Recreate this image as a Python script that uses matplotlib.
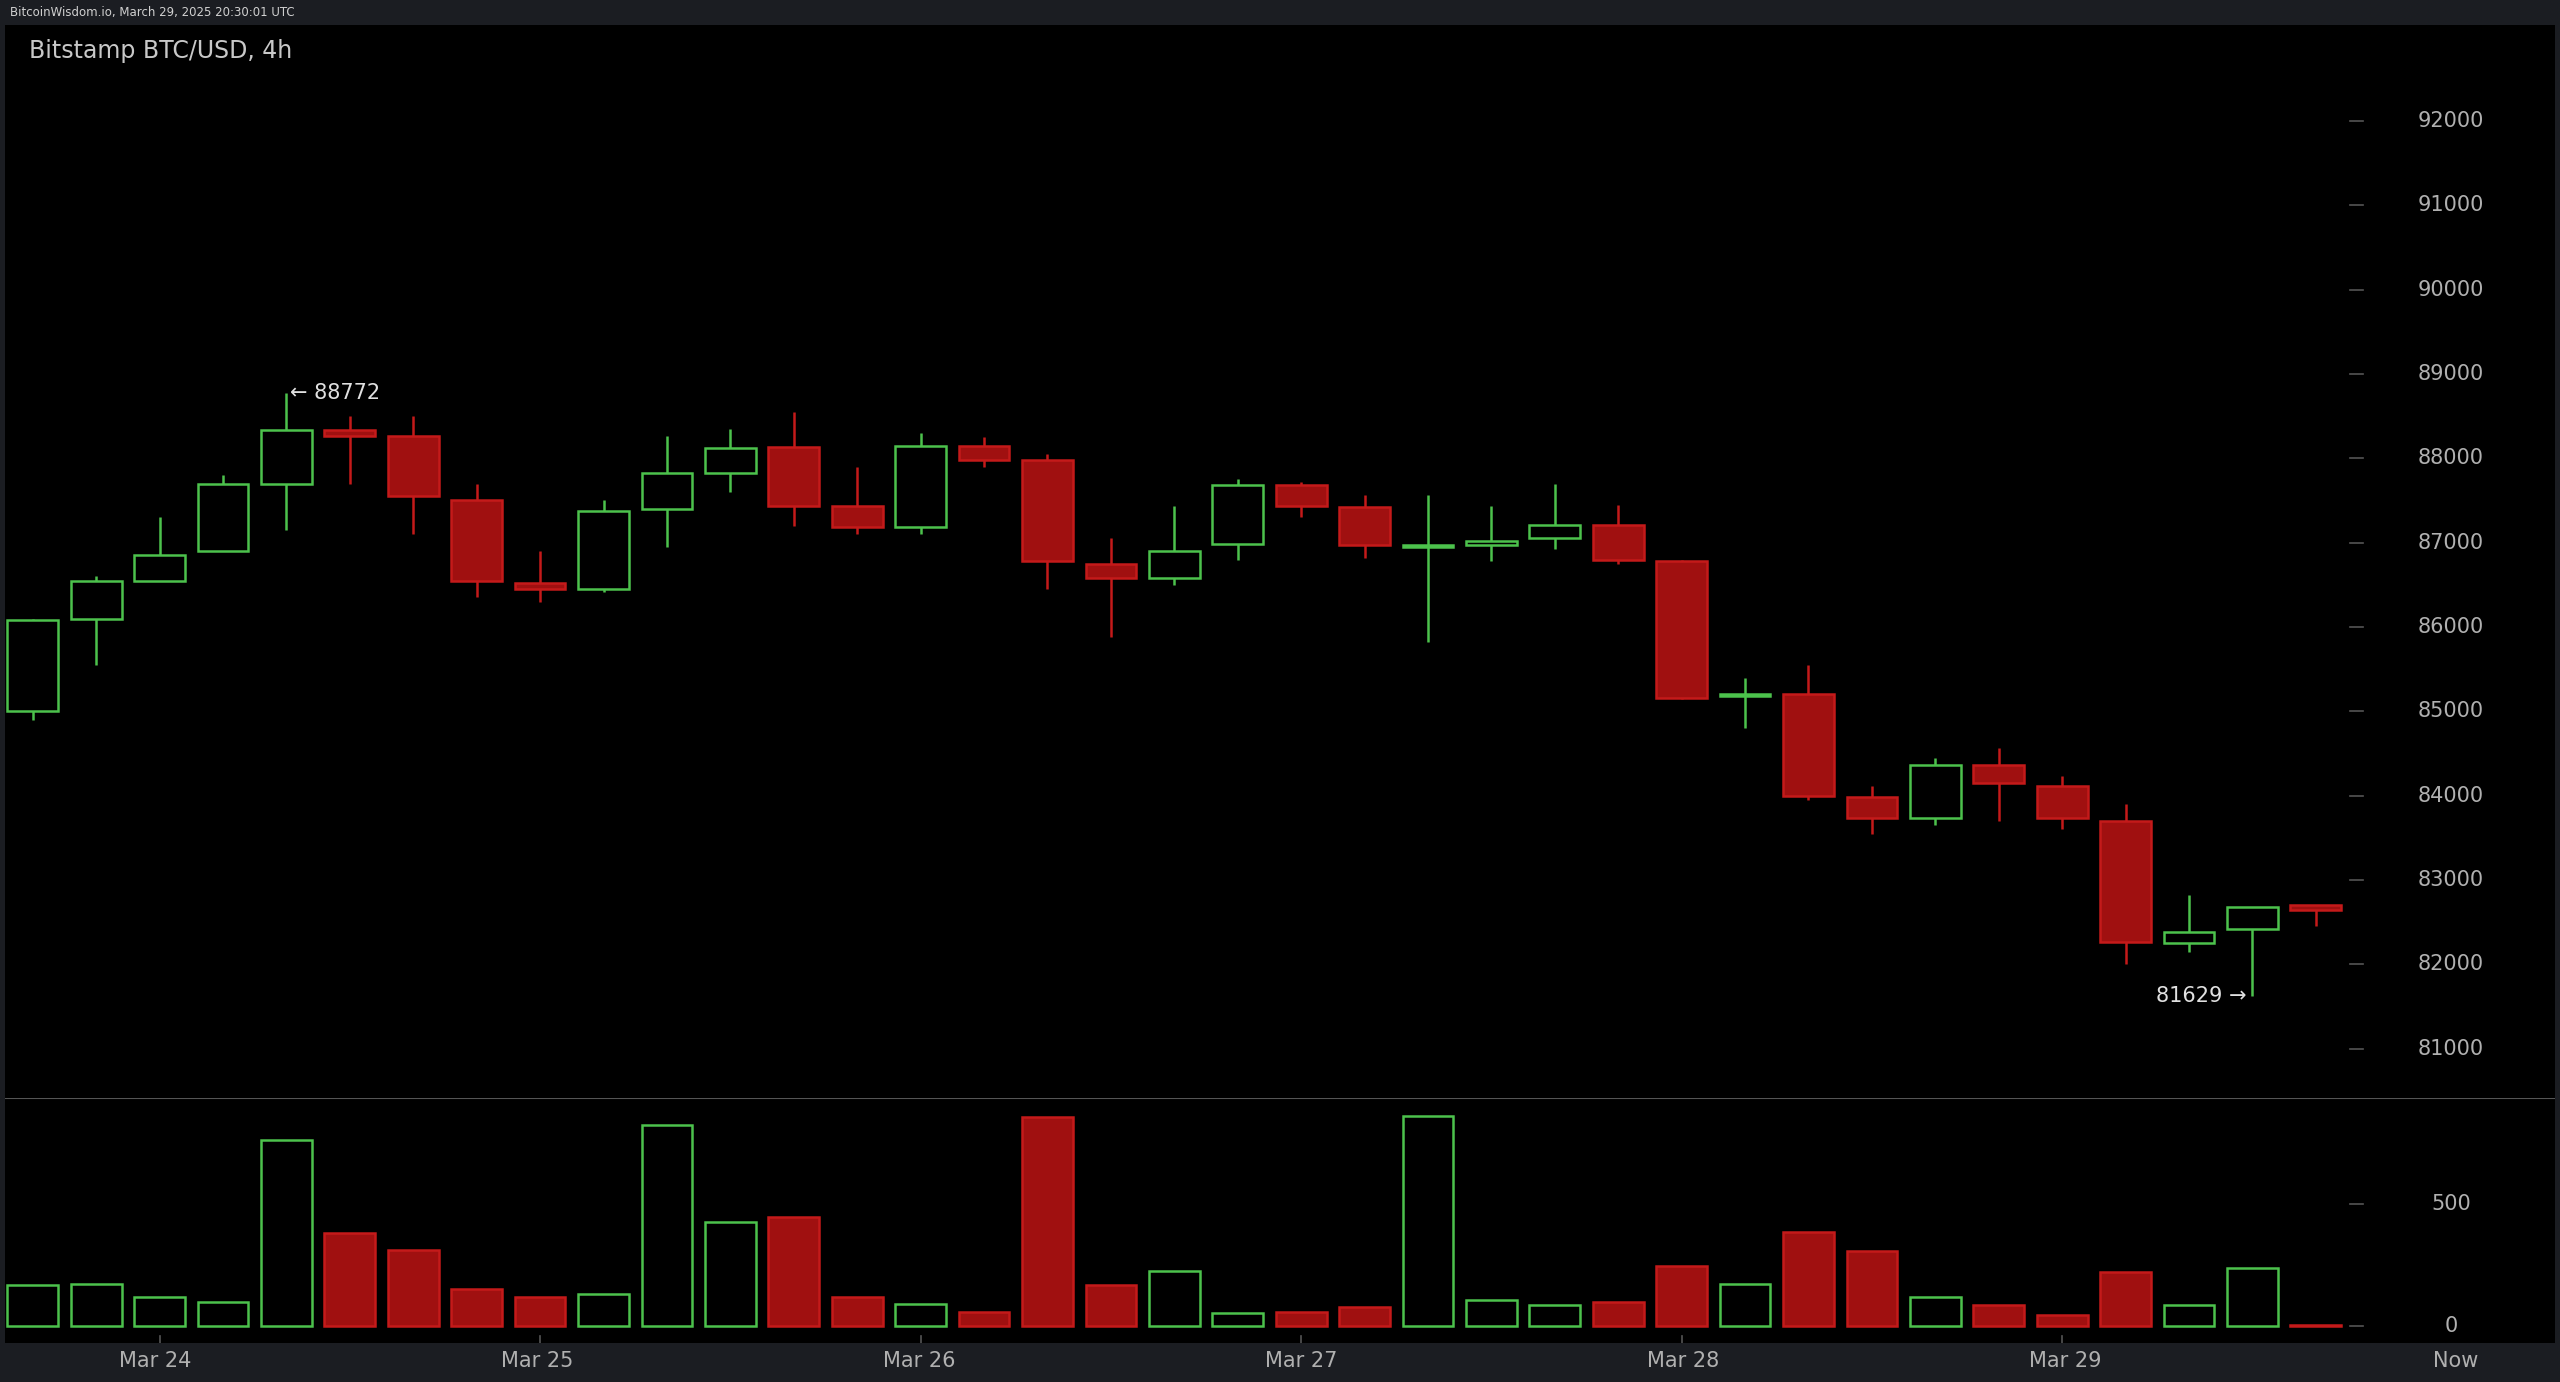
import numpy as np
import matplotlib
matplotlib.use('Agg')
import matplotlib.pyplot as plt

# 4h candles, Mar 23 16:00 .. Mar 29 20:00
opens = [85000, 86100, 86550, 86900, 87700, 88330, 88270, 87500, 86520, 86450, 87400, 87830, 88130,
         87430, 87180, 88150, 87980, 86750, 86580, 86990, 87680, 87420, 86950, 86970, 87060, 87210,
         86780, 85180, 85200, 83990, 83740, 84360, 84120, 83700, 82250, 82420, 82700]
closes = [86080, 86550, 86850, 87700, 88330, 88270, 87550, 86550, 86450, 87370, 87830, 88120, 87430,
          87180, 88150, 87980, 86780, 86580, 86900, 87680, 87430, 86970, 86960, 87020, 87210, 86800,
          85160, 85200, 84000, 83740, 84360, 84150, 83730, 82260, 82380, 82680, 82640]
highs = [86100, 86600, 87300, 87800, 88772, 88500, 88500, 87700, 86900, 87500, 88270, 88350, 88550,
         87900, 88300, 88250, 88050, 87050, 87430, 87750, 87720, 87570, 87560, 87430, 87700, 87450,
         86800, 85400, 85550, 84120, 84450, 84560, 84230, 83900, 82820, 82680, 82700]
lows = [84900, 85550, 86550, 86900, 87150, 87700, 87100, 86350, 86300, 86420, 86950, 87600, 87200,
        87100, 87100, 87900, 86450, 85880, 86500, 86800, 87300, 86820, 85820, 86780, 86930, 86750,
        85150, 84800, 83950, 83550, 83650, 83700, 83600, 82000, 82150, 81629, 82450]
volumes = [167, 173, 120, 100, 760, 380, 313, 153, 120, 133, 820, 427, 447, 120, 93, 60, 853, 167,
           227, 53, 60, 80, 860, 107, 87, 100, 247, 173, 387, 307, 120, 87, 47, 220, 87, 240, 7]
price_ticks = [81000, 82000, 83000, 84000, 85000, 86000, 87000, 88000, 89000, 90000, 91000, 92000]
date_pos = [2, 8, 14, 20, 26, 32]
date_labels = ['Mar 24', 'Mar 25', 'Mar 26', 'Mar 27', 'Mar 28', 'Mar 29']

W, H = 1568.0, 846.0
GREEN = '#4cc24c'
RED_F = '#a01010'
RED_E = '#c41a1a'
TXT = '#b0b0b0'

fig = plt.figure(figsize=(25.6, 13.82), dpi=100, facecolor='#1b1d22')

def frame(top, bottom):
    return [0.002, 1 - bottom / H, 0.996, (bottom - top) / H]

xlim = ((0 - 17) / 39.0, (W - 17) / 39.0)
ax = fig.add_axes(frame(15, 672), facecolor='black')
axv = fig.add_axes(frame(672, 822), facecolor='black')
for a in (ax, axv):
    a.set_xlim(*xlim)
    a.set_xticks([])
    a.set_yticks([])
    for s in a.spines.values():
        s.set_visible(False)
ax.set_ylim(80419, 93143)
axv.set_ylim(-67, 933)
axv.axhline(933, color='#555555', lw=1.5)

x = np.arange(len(opens))
w = 0.8
for i in x:
    o, c, h, l = opens[i], closes[i], highs[i], lows[i]
    up = c >= o
    col = GREEN if up else RED_E
    lo, hi = min(o, c), max(o, c)
    ax.vlines(i, l, lo, color=col, lw=1.8)
    ax.vlines(i, hi, h, color=col, lw=1.8)
    bh = max(hi - lo, 25)
    ax.bar(i, bh, w, bottom=lo, facecolor='none' if up else RED_F, edgecolor=col, lw=1.8)
    axv.bar(i, volumes[i], w, facecolor='none' if up else RED_F, edgecolor=GREEN if up else RED_E, lw=1.8)

# right-side price scale
tx = 1447 / W
lx = 1504 / W
for p in price_ticks:
    ax.plot([tx - 0.003, tx + 0.002], [p, p], color='#555555', lw=1.2,
            transform=ax.get_yaxis_transform())
    ax.text(lx, p, str(p), color=TXT, fontsize=15, ha='center', va='center',
            transform=ax.get_yaxis_transform())
for v in [0, 500]:
    axv.plot([tx - 0.003, tx + 0.002], [v, v], color='#555555', lw=1.2,
             transform=axv.get_yaxis_transform())
    axv.text(lx, v, str(v), color=TXT, fontsize=15, ha='center', va='center',
             transform=axv.get_yaxis_transform())

# high / low markers
ih = int(np.argmax(highs))
il = int(np.argmin(lows))
ax.text(ih + 0.05, highs[ih], '\u2190 %d' % highs[ih], color='#e0e0e0', fontsize=15,
        ha='left', va='center')
ax.text(il - 0.1, lows[il], '%d \u2192' % lows[il], color='#e0e0e0', fontsize=15,
        ha='right', va='center')

# date labels
for p, lab in zip(date_pos, date_labels):
    fig.text((17 + 39 * p) / W, 1 - 833 / H, lab, color=TXT, fontsize=15, ha='center', va='center')
    axv.plot([p, p], [-67, -40], color='#555555', lw=1.2)
fig.text(1504 / W, 1 - 833 / H, 'Now', color=TXT, fontsize=15, ha='center', va='center')

fig.text(18 / W, 1 - 31 / H, 'Bitstamp BTC/USD, 4h', color='#c8c8c8', fontsize=17, ha='left', va='center')
fig.text(6 / W, 1 - 7.5 / H, 'BitcoinWisdom.io, March 29, 2025 20:30:01 UTC', color='#d0d0d0',
         fontsize=8.5, ha='left', va='center')

fig.savefig('out.png', dpi=100, facecolor=fig.get_facecolor())
